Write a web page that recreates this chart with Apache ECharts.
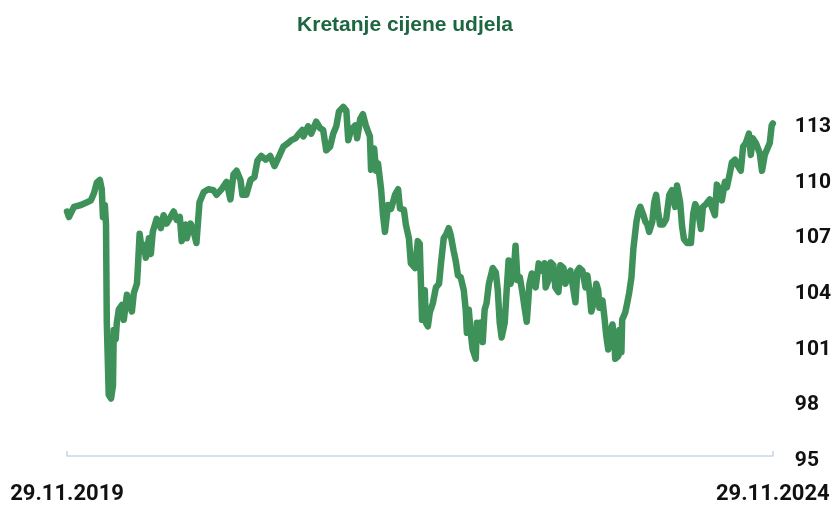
<!DOCTYPE html>
<html>
<head>
<meta charset="utf-8">
<script src="https://cdn.jsdelivr.net/npm/echarts@6/dist/echarts.min.js"></script>
<style>
  html, body { margin: 0; padding: 0; background: #fff; }
  #udjelChart { width: 834px; height: 505px; }
</style>
</head>
<body>
<div id="udjelChart"></div>
<script>
// days since 29.11.2019 and unit price
var days = [0, 5, 18, 36, 52, 62, 70, 77, 85, 90, 93, 98, 101, 103, 108, 114, 119, 121, 126, 129,
  134, 142, 147, 155, 160, 168, 173, 181, 183, 188, 194, 199, 204, 212, 217, 222, 232, 243, 250, 258,
  268, 276, 284, 292, 297, 307, 310, 320, 328, 335, 343, 354, 366, 379, 387, 400, 413, 423, 431, 439,
  449, 454, 464, 475, 485, 493, 503, 514, 526, 537, 547, 560, 573, 581, 591, 596, 601, 609, 612, 624,
  632, 645, 655, 663, 671, 681, 689, 697, 704, 715, 723, 728, 735, 746, 751, 759, 766, 774, 784, 787,
  795, 800, 805, 813, 818, 823, 831, 839, 849, 857, 862, 872, 877, 885, 890, 901, 908, 913, 919, 926,
  929, 934, 939, 947, 955, 963, 968, 975, 981, 988, 993, 1001, 1006, 1012, 1019, 1027, 1032, 1035, 1040, 1045,
  1050, 1058, 1061, 1066, 1071, 1076, 1081, 1086, 1092, 1097, 1102, 1110, 1115, 1120, 1125, 1133, 1138, 1143, 1148, 1156,
  1161, 1166, 1172, 1179, 1184, 1190, 1195, 1197, 1203, 1213, 1221, 1228, 1236, 1239, 1246, 1252, 1259, 1264, 1272, 1277,
  1285, 1290, 1298, 1303, 1311, 1316, 1321, 1326, 1334, 1342, 1347, 1352, 1357, 1365, 1370, 1375, 1378, 1386, 1391, 1396,
  1401, 1406, 1412, 1417, 1419, 1427, 1430, 1435, 1437, 1445, 1450, 1455, 1461, 1466, 1471, 1474, 1479, 1484, 1492, 1497,
  1502, 1507, 1515, 1520, 1525, 1530, 1535, 1543, 1551, 1559, 1566, 1574, 1579, 1587, 1592, 1597, 1605, 1615, 1621, 1626,
  1633, 1641, 1646, 1654, 1664, 1669, 1677, 1682, 1690, 1695, 1703, 1708, 1716, 1721, 1729, 1737, 1744, 1750, 1757, 1765,
  1770, 1775, 1783, 1793, 1799, 1806, 1811, 1819, 1824, 1827];

var price = [108.2, 107.9, 108.45, 108.55, 108.7, 108.8, 109.2, 109.75, 109.9, 109.4, 107.9, 108.55, 107.5, 102.2, 98.3, 98.1, 98.8, 101.8, 101.3, 102.2,
  102.9, 103.15, 102.35, 103.7, 103.25, 102.8, 103.8, 104.3, 105, 107, 106.05, 106.4, 105.7, 106.75, 105.9, 107.1, 107.8, 107.3, 108, 107.55,
  107.9, 108.2, 107.75, 107.9, 106.6, 107.5, 106.75, 107.55, 107.1, 106.5, 108.7, 109.25, 109.4, 109.35, 109.1, 109.4, 109.8, 108.85, 110.2, 110.4,
  109.9, 109.1, 109.1, 109.9, 110.05, 110.95, 111.2, 111, 111.2, 110.65, 111.1, 111.7, 111.9, 112.05, 112.15, 112.05, 112.4, 112.6, 112.25, 112.8,
  112.4, 113.05, 112.7, 112.6, 111.5, 111.7, 112.4, 112.8, 113.6, 113.85, 113.65, 112.05, 112.6, 112.85, 112.15, 113.2, 113.45, 112.8, 112.25, 110.45,
  111.6, 110.4, 110.8, 109.4, 108, 107.1, 108.55, 108.35, 109.1, 109.4, 108.35, 108.3, 107.5, 106.75, 105.4, 105.15, 106.6, 106.45, 102.35, 103.95,
  102.2, 102, 102.75, 103.25, 104.1, 104.3, 105.4, 106.75, 106.95, 107.3, 106.95, 106.05, 105.55, 104.75, 104.65, 103.95, 102.9, 101.65, 102.9, 101.65,
  100.75, 100.25, 102.2, 101.45, 102.2, 101.15, 102.9, 103.25, 104.3, 104.35, 105.15, 104.9, 103.95, 102.2, 101.4, 102.2, 103.95, 105.55, 104.3, 104.85,
  106.35, 104.5, 104.65, 103.8, 103.05, 102.25, 102.35, 104.3, 104.85, 104.1, 105.4, 105, 105.4, 104.1, 104.5, 105.45, 105.3, 104.1, 103.85, 105.3,
  105.15, 104.3, 104.85, 105, 103.95, 103.3, 105, 105.15, 105, 104.1, 104.75, 103.95, 102.8, 103.4, 104.3, 103.95, 103, 103.4, 102.5, 101.45,
  100.75, 101.65, 102.1, 101.15, 100.25, 100.4, 101.8, 100.6, 102.35, 102.75, 103.25, 103.8, 104.65, 106.2, 106.2, 107.65, 108.2, 108.45, 108, 107.65,
  107.5, 107.1, 107.65, 108.7, 109.1, 108.2, 107.5, 107.5, 107.8, 109.1, 109.35, 108.45, 109.6, 108.7, 107.4, 106.7, 106.5, 106.5, 108.1, 108.6,
  108.3, 107.25, 108.45, 108.6, 108.85, 108.45, 108, 109.65, 109.35, 108.8, 109.8, 109.5, 110.3, 110.85, 111, 110.65, 110.4, 111.7, 111.9, 112.4,
  111.25, 112.15, 111.9, 111.35, 110.4, 111.25, 111.5, 111.9, 112.85, 112.95];

var dateLabels = { 0: '29.11.2019', 1827: '29.11.2024' };
var yTicks = [95, 98, 101, 104, 107, 110, 113];

var seriesData = days.map(function (d, i) { return [d, price[i]]; });

var option = {
  animation: false,
  title: {
    text: 'Kretanje cijene udjela',
    left: 400,
    top: 10,
    textAlign: 'center',
    textStyle: {
      fontFamily: 'Liberation Sans',
      fontSize: 21,
      fontWeight: 'bold',
      color: '#1c6640'
    }
  },
  grid: {
    left: 67,
    right: 59,
    top: 67,
    bottom: 41
  },
  xAxis: {
    type: 'value',
    min: 0,
    max: 1827,
    interval: 1827,
    axisLine: {
      show: true,
      lineStyle: { color: '#c9d6e8', width: 1.5 }
    },
    axisTick: {
      show: true,
      inside: true,
      length: 5,
      lineStyle: { color: '#c9d6e8', width: 1.5 }
    },
    splitLine: { show: false },
    axisLabel: {
      margin: 27,
      fontFamily: 'Roboto',
      fontSize: 22,
      fontWeight: 'bold',
      color: '#111',
      formatter: function (v) { return dateLabels[v] || ''; }
    }
  },
  yAxis: {
    type: 'value',
    position: 'right',
    min: yTicks[0],
    max: 116,
    interval: 3,
    axisLine: { show: false },
    axisTick: { show: false },
    splitLine: { show: false },
    axisLabel: {
      showMaxLabel: false,
      margin: 22,
      verticalAlign: 'top',
      lineHeight: 9,
      fontFamily: 'Roboto',
      fontSize: 21,
      fontWeight: 'bold',
      color: '#111'
    }
  },
  series: [{
    type: 'line',
    data: seriesData,
    showSymbol: false,
    smooth: false,
    lineStyle: {
      color: '#3f915a',
      width: 6.5,
      cap: 'round',
      join: 'round'
    }
  }]
};

var udjelChart = echarts.init(document.getElementById('udjelChart'));
udjelChart.setOption(option);
</script>
</body>
</html>
